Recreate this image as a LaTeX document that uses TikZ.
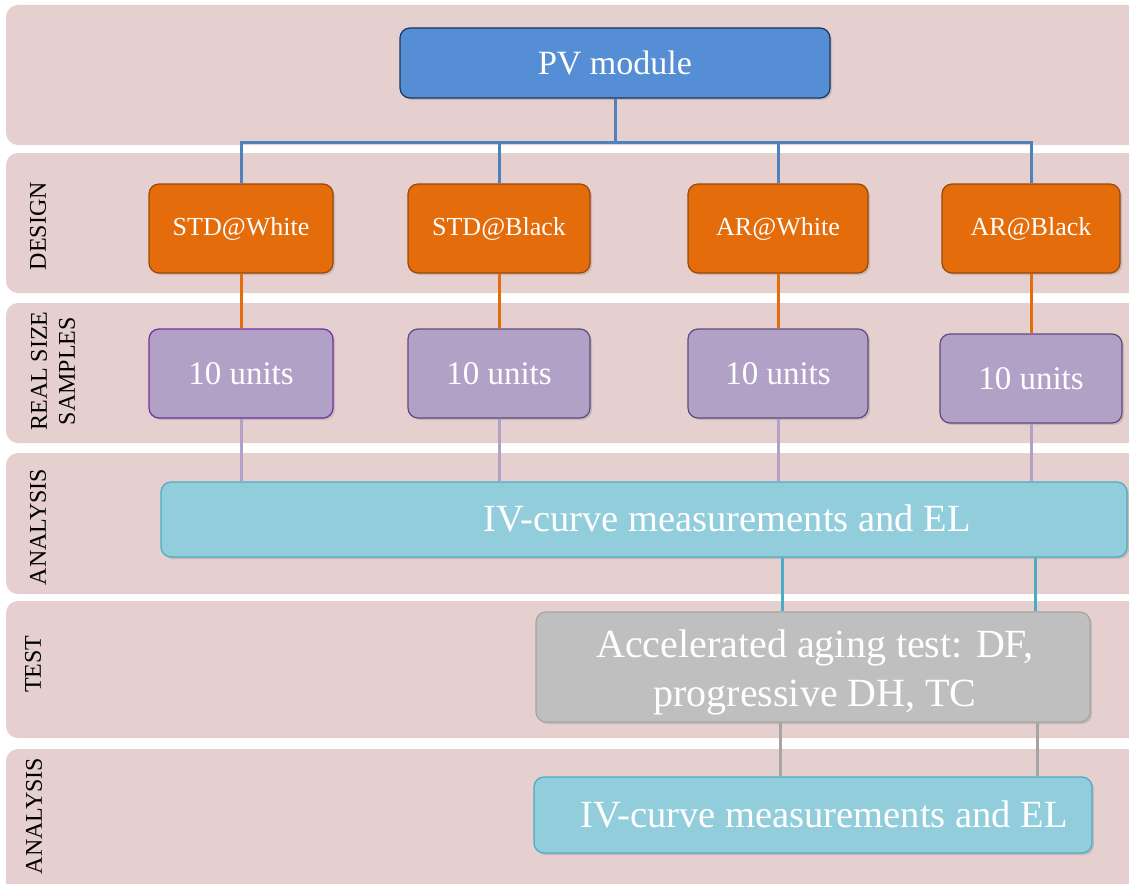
\documentclass[tikz,border=0pt]{standalone}
\usepackage{fontspec}
\setmainfont{Liberation Serif}
\usetikzlibrary{shadows}

\definecolor{bandpink}{HTML}{E6CFCF}
\definecolor{pvfill}{HTML}{558ED5}
\definecolor{pvedge}{HTML}{17375E}
\definecolor{pvline}{HTML}{4F81BD}
\definecolor{desfill}{HTML}{E46C0A}
\definecolor{desedge}{HTML}{984807}
\definecolor{unitfill}{HTML}{B2A1C7}
\definecolor{unitedge}{HTML}{604A7B}
\definecolor{unitedgea}{HTML}{7030A0}
\definecolor{measfill}{HTML}{92CDDC}
\definecolor{measedge}{HTML}{4BACC6}
\definecolor{agefill}{HTML}{BFBFBF}
\definecolor{ageedge}{HTML}{A5A5A5}

\begin{document}
\begin{tikzpicture}[x=1pt,y=-1pt,
    band/.style={fill=bandpink, rounded corners=12pt},
    bandlabel/.style={rotate=90, align=center, font=\fontsize{24}{28}\selectfont},
    box/.style={draw, line width=1.2pt, rounded corners=10pt, text=white, align=center,
                drop shadow={shadow xshift=2pt, shadow yshift=-2pt, opacity=.3}},
    pvbox/.style={box, fill=pvfill, draw=pvedge, minimum width=430pt, minimum height=70pt,
                  font=\fontsize{34}{40}\selectfont},
    desbox/.style={box, fill=desfill, draw=desedge, minimum height=89pt,
                   font=\fontsize{26}{30}\selectfont},
    unitbox/.style={box, fill=unitfill, draw=unitedge, minimum height=89pt,
                    font=\fontsize{33}{38}\selectfont},
    measbox/.style={box, fill=measfill, draw=measedge},
    meastext/.style={text=white, font=\fontsize{38.5}{44}\selectfont},
    agebox/.style={box, fill=agefill, draw=ageedge},
    agetext/.style={text=white, align=center, font=\fontsize{40}{49}\selectfont},
    link/.style={line width=3pt}]
        \useasboundingbox (0,0) rectangle (1129,883);

        % background bands
        \foreach \ytop/\ybot in {5/145, 153/293, 303/443, 453/594, 601/738, 749/900}
            \fill[band] (6,\ytop) rectangle (1140,\ybot);

        \node[bandlabel] (lbldesign) at (38,226) {DESIGN};
        \node[bandlabel] (lblsamples) at (53,371) {REAL SIZE\\SAMPLES};
        \node[bandlabel] (lblanalysisa) at (38,527) {ANALYSIS};
        \node[bandlabel] (lbltest) at (33,664) {TEST};
        \node[bandlabel] (lblanalysisb) at (34,816) {ANALYSIS};

        % boxes
        \node[pvbox] (pv) at (615,63) {PV module};

        \node[desbox, minimum width=184pt] (stdw) at (241,228.5) {STD@White};
        \node[desbox, minimum width=182pt] (stdb) at (499,228.5) {STD@Black};
        \node[desbox, minimum width=180pt] (arw) at (778,228.5) {AR@White};
        \node[desbox, minimum width=178pt] (arb) at (1031,228.5) {AR@Black};

        \node[unitbox, draw=unitedgea, minimum width=184pt] (unita) at (241,373.5) {10 units};
        \node[unitbox, minimum width=182pt] (unitb) at (499,373.5) {10 units};
        \node[unitbox, minimum width=180pt] (unitc) at (778,373.5) {10 units};
        \node[unitbox, minimum width=182pt] (unitd) at (1031,378.5) {10 units};

        \node[measbox, minimum width=966pt, minimum height=75pt,
              label={[meastext, xshift=83pt, yshift=1pt]center:IV-curve measurements and EL}]
              (measa) at (644,519.5) {};

        \node[agebox, minimum width=554pt, minimum height=110pt,
              label={[agetext, xshift=2pt, yshift=-5pt]center:Accelerated aging test: DF,\\progressive DH, TC}]
              (aging) at (813,667) {};

        \node[measbox, minimum width=558pt, minimum height=76pt,
              label={[meastext, xshift=11pt, yshift=1pt]center:IV-curve measurements and EL}]
              (measb) at (813,815) {};

        % connectors
        \coordinate (bus) at (615,142);
        \draw[link, pvline] (pv.south) -- (bus) -| (stdw.north);
        \draw[link, pvline] (bus) -| (stdb.north);
        \draw[link, pvline] (bus) -| (arw.north);
        \draw[link, pvline] (bus) -| (arb.north);

        \draw[link, desfill] (stdw.south) -- (unita.north);
        \draw[link, desfill] (stdb.south) -- (unitb.north);
        \draw[link, desfill] (arw.south) -- (unitc.north);
        \draw[link, desfill] (arb.south) -- (unitd.north);

        \draw[link, unitfill] (unita.south) -- (unita.south |- measa.north);
        \draw[link, unitfill] (unitb.south) -- (unitb.south |- measa.north);
        \draw[link, unitfill] (unitc.south) -- (unitc.south |- measa.north);
        \draw[link, unitfill] (unitd.south) -- (unitd.south |- measa.north);

        \draw[link, measedge] ([xshift=4pt]measa.south -| unitc) -- ([xshift=4pt]aging.north -| unitc);
        \draw[link, measedge] ([xshift=4pt]measa.south -| unitd) -- ([xshift=4pt]aging.north -| unitd);

        \draw[link, ageedge] ([xshift=2pt]aging.south -| unitc) -- ([xshift=2pt]measb.north -| unitc);
        \draw[link, ageedge] ([xshift=6pt]aging.south -| unitd) -- ([xshift=6pt]measb.north -| unitd);
    \end{tikzpicture}
\end{document}
